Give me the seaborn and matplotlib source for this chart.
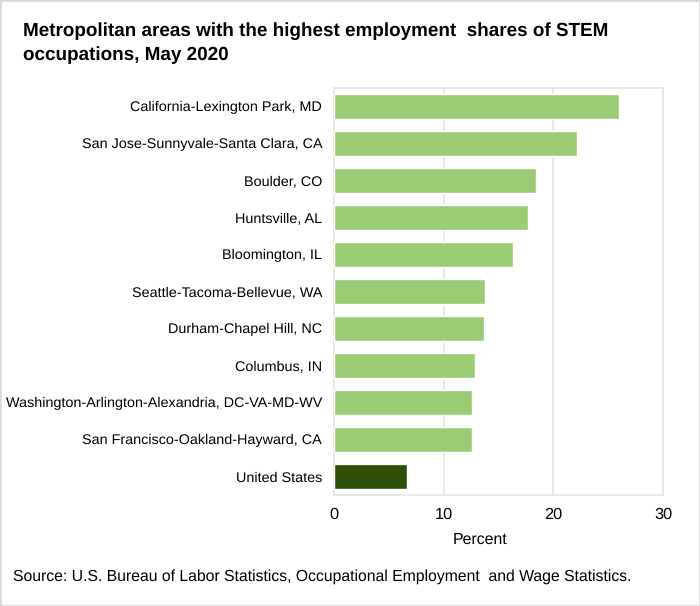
import pandas as pd
import seaborn as sns
import matplotlib.pyplot as plt
from matplotlib.patches import Rectangle

areas = [
    "California-Lexington Park, MD",
    "San Jose-Sunnyvale-Santa Clara, CA",
    "Boulder, CO",
    "Huntsville, AL",
    "Bloomington, IL",
    "Seattle-Tacoma-Bellevue, WA",
    "Durham-Chapel Hill, NC",
    "Columbus, IN",
    "Washington-Arlington-Alexandria, DC-VA-MD-WV",
    "San Francisco-Oakland-Hayward, CA",
    "United States",
]
shares = [26.0, 22.2, 18.4, 17.7, 16.3, 13.8, 13.7, 12.9, 12.6, 12.6, 6.7]
x_ticks = [0, 10, 20, 30]

light_green = "#9BCB74"
dark_green = "#2D5006"
grid_grey = "#E3E3E3"

sns.set_theme(style="white")
plt.rcParams["font.family"] = ["Liberation Sans", "DejaVu Sans"]
plt.rcParams["text.hinting"] = "no_hinting"

df = pd.DataFrame({"area": areas, "share": shares})
bar_colors = [dark_green if a == "United States" else light_green for a in areas]

W, H = 700, 606
fig = plt.figure(figsize=(W / 100, H / 100), dpi=100)
ax = fig.add_axes([334 / W, 1 - 495 / H, (663 - 334) / W, (495 - 88) / H])

sns.barplot(data=df, x="share", y="area", hue="area", palette=bar_colors,
            legend=False, width=0.65, saturation=1, ax=ax, zorder=3)

ax.set_xlim(0, 30)
ax.set_ylim(len(areas) - 0.5, -0.5)
ax.set_xticks(x_ticks)
ax.xaxis.grid(True, color=grid_grey, linewidth=1.1, zorder=0)
ax.set_axisbelow(True)
for side in ax.spines.values():
    side.set_color(grid_grey)
    side.set_linewidth(1.1)

ax.tick_params(axis="y", length=0, pad=8.5, labelsize=10.4, labelcolor="black")
ax.tick_params(axis="x", length=0, pad=8.5, labelsize=11.8, labelcolor="black")
ax.set_ylabel("")
ax.set_xlabel("Percent", fontsize=11.4, color="black")
ax.xaxis.set_label_coords((480 - 334) / (663 - 334), -(540 - 495) / (495 - 88), transform=ax.transAxes)
ax.xaxis.label.set_va("center")

fig.text(23 / W, 1 - 43 / H, "Metropolitan areas with the highest employment  shares of STEM\noccupations, May 2020",
         fontsize=13.6, fontweight="bold", color="black", va="center", linespacing=1.4)
fig.text(13 / W, 1 - 577 / H, "Source: U.S. Bureau of Labor Statistics, Occupational Employment  and Wage Statistics.",
         fontsize=11.35, color="black", va="center")

fig.add_artist(Rectangle((0, 0), 1, 1, transform=fig.transFigure, fill=False,
                         edgecolor="#D9D9D9", linewidth=2))

fig.savefig("out.png", dpi=100)
